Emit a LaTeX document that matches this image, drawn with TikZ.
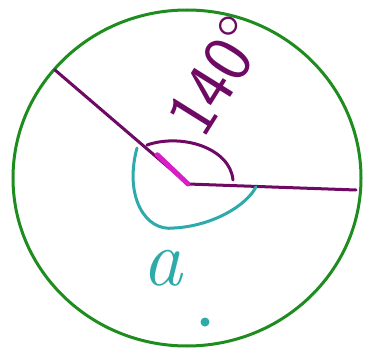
\documentclass[tikz,border=0pt]{standalone}
\usepackage{tikz}
\usetikzlibrary{calc}
\definecolor{rim}{HTML}{1E8C1E}
\definecolor{ink}{HTML}{6E0A64}
\definecolor{hot}{HTML}{D81EC8}
\definecolor{teal}{HTML}{2EAAAA}
\tikzset{
  rimline/.style={draw=rim,line width=3pt},
  rayline/.style={draw=ink,line width=3pt,line cap=round,line join=round},
  arcmark/.style={line width=3pt,line cap=round},
}
\begin{document}
\begin{tikzpicture}[x=1pt,y=-1pt]
  \useasboundingbox (0,0) rectangle (367,353);
  % circle
  \coordinate (C) at (187,178);
  \draw[rimline] (C) ellipse [x radius=174,y radius=168];
  % the two rays
  \coordinate (A) at (55,70);
  \coordinate (O) at (188,184);
  \coordinate (B) at (356,190);
  \draw[rayline] (A) -- (O) -- (B);
  % small angle, magenta
  \coordinate (a1) at (147,145);
  \coordinate (a2) at (233,180);
  \draw[arcmark,draw=ink] (a1) .. controls (182,133) and (230,148) .. (a2);
  \draw[line width=5pt,draw=hot,line cap=round] ($(O)!0.75!(a1)$) -- (O);
  % large angle, cyan
  \coordinate (b1) at (137,148);
  \coordinate (b2) at (174,228);
  \coordinate (b3) at (256,187);
  \draw[arcmark,draw=teal] (b1) .. controls (124,196) and (145,232) .. (b2)
    .. controls (212,226) and (246,206) .. (b3);
  % labels
  \node[text=ink,rotate=58,inner sep=0pt,font=\fontsize{70}{70}\selectfont\sffamily] (deg) at (216,76) {140°};
  \node[text=teal,font=\fontsize{80}{80}\selectfont\itshape] (alpha) at (162,268) {a};
  \fill[teal] (205,322) circle (4.5);
\end{tikzpicture}
\end{document}
